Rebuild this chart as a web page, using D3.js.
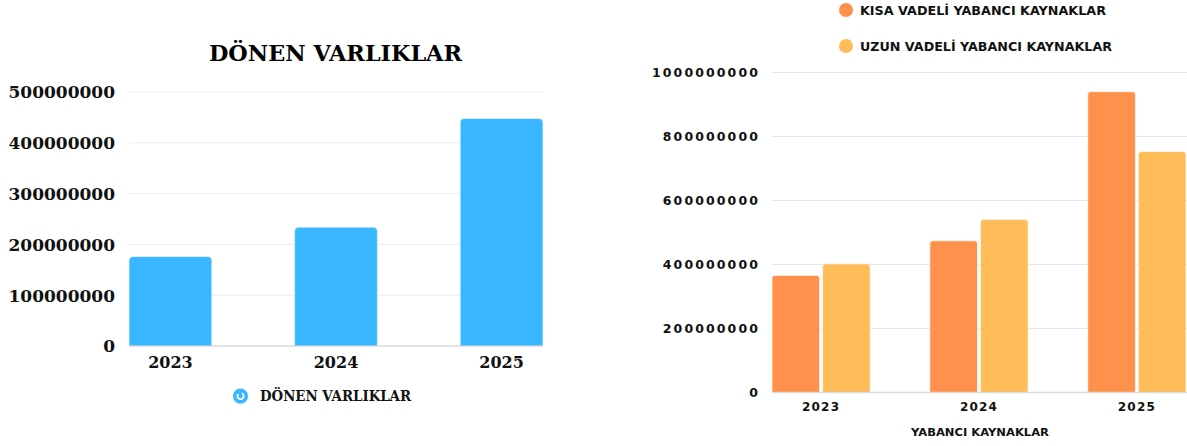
<!DOCTYPE html>
<html><head><meta charset="utf-8">
<script src="https://cdn.jsdelivr.net/npm/d3@7"></script>
<style>
html,body{margin:0;padding:0;background:#fff;}
svg{display:block;}
</style></head>
<body>
<svg id="c" width="1187" height="446"></svg>
<script>
// ---- Data ----
const years = ["2023", "2024", "2025"];
const donenVarliklar = [176000000, 234000000, 448000000];
const leftTicks = [0, 100000000, 200000000, 300000000, 400000000, 500000000];
const leftTitle = "DÖNEN VARLIKLAR";

const seriesNames = ["KISA VADELİ YABANCI KAYNAKLAR", "UZUN VADELİ YABANCI KAYNAKLAR"];
const kisaVadeli = [366000000, 474000000, 940000000];
const uzunVadeli = [402000000, 541000000, 753000000];
const rightTicks = [0, 200000000, 400000000, 600000000, 800000000, 1000000000];
const rightAxisTitle = "YABANCI KAYNAKLAR";

const blue = "#38b6ff", orange = "#ff914d", yellow = "#ffbd59";
const svg = d3.select("#c");

function topRounded(x, y, w, h, r) {
  r = Math.min(r, w / 2, h);
  return `M${x},${y + h}V${y + r}Q${x},${y} ${x + r},${y}H${x + w - r}Q${x + w},${y} ${x + w},${y + r}V${y + h}Z`;
}

// ---- Left chart ----
const serif = "'DejaVu Serif', serif";
const L = { left: 129, right: 543, top: 92, bottom: 346 };
const xL = d3.scaleBand().domain(years).range([L.left, L.right]).paddingInner(0.5).paddingOuter(0);
const yL = d3.scaleLinear().domain([0, 500000000]).range([L.bottom, L.top]);
const gL = svg.append("g");

gL.selectAll("line.grid").data(leftTicks.filter(d => d > 0)).join("line")
  .attr("x1", L.left).attr("x2", L.right)
  .attr("y1", d => yL(d)).attr("y2", d => yL(d))
  .attr("stroke", "#ececec").attr("stroke-width", 1);

gL.selectAll("path.bar").data(years).join("path")
  .attr("d", (d, i) => topRounded(xL(d), yL(donenVarliklar[i]), xL.bandwidth(), yL(0) - yL(donenVarliklar[i]), 4))
  .attr("fill", blue).attr("stroke", "#fff").attr("stroke-width", 0.6);

gL.append("line").attr("x1", L.left).attr("x2", L.right)
  .attr("y1", yL(0)).attr("y2", yL(0)).attr("stroke", "#c8c8c8").attr("stroke-width", 1);

const yAxisL = d3.axisLeft(yL).tickValues(leftTicks).tickFormat(d3.format("d")).tickSize(0).tickPadding(0);
const yaL = gL.append("g").attr("transform", "translate(115,0)").call(yAxisL);
yaL.select(".domain").remove();
yaL.selectAll("text").attr("font-family", serif).attr("font-weight", "bold")
  .attr("font-size", 17).attr("fill", "#111").attr("dy", "0.35em");

const xAxisL = d3.axisBottom(xL).tickSize(0).tickPadding(0);
const xaL = gL.append("g").attr("transform", `translate(0,${L.bottom})`).call(xAxisL);
xaL.select(".domain").remove();
xaL.selectAll("text").attr("font-family", serif).attr("font-weight", "bold")
  .attr("font-size", 16).attr("fill", "#111").attr("y", 16).attr("dy", "0.35em");

gL.append("text").text(leftTitle).attr("x", 335.5).attr("y", 52).attr("text-anchor", "middle")
  .attr("dominant-baseline", "central")
  .attr("font-family", serif).attr("font-weight", "bold").attr("font-size", 23)
  .attr("textLength", 253).attr("lengthAdjust", "spacingAndGlyphs").attr("fill", "#000");

// legend left
const lg = gL.append("g").attr("transform", "translate(240.5,396)");
lg.append("circle").attr("r", 8).attr("fill", "#bde6ff").attr("opacity", 0.5).attr("cy", 1);
lg.append("circle").attr("r", 7.5).attr("fill", blue);
lg.append("path").attr("d", d3.arc()({ innerRadius: 2.2, outerRadius: 4, startAngle: Math.PI * 0.15, endAngle: Math.PI * 1.75 }))
  .attr("fill", "#fff");
gL.append("text").text(leftTitle).attr("x", 260).attr("y", 396).attr("dominant-baseline", "central")
  .attr("font-family", serif).attr("font-weight", "bold").attr("font-size", 14)
  .attr("textLength", 151).attr("lengthAdjust", "spacingAndGlyphs").attr("fill", "#111");

// ---- Right chart ----
const sans = "'DejaVu Sans', sans-serif";
const R = { left: 772, right: 1186, top: 72.5, bottom: 392.5 };
const xR = d3.scaleBand().domain(years).range([R.left, R.right]).paddingInner(0.378).paddingOuter(0);
const xSub = d3.scaleBand().domain([0, 1]).range([0, xR.bandwidth()]).paddingInner(0.06);
const yR = d3.scaleLinear().domain([0, 1000000000]).range([R.bottom, R.top]);
const gR = svg.append("g");

gR.selectAll("line.grid").data(rightTicks.filter(d => d > 0)).join("line")
  .attr("x1", R.left).attr("x2", 1187)
  .attr("y1", d => yR(d)).attr("y2", d => yR(d))
  .attr("stroke", "#e6e6e6").attr("stroke-width", 1);

const series = [kisaVadeli, uzunVadeli];
const colors = [orange, yellow];
series.forEach((vals, s) => {
  gR.selectAll(`path.bar${s}`).data(years).join("path")
    .attr("d", (d, i) => topRounded(xR(d) + xSub(s), yR(vals[i]), xSub.bandwidth(), yR(0) - yR(vals[i]), 3))
    .attr("fill", colors[s]).attr("stroke", "#fff").attr("stroke-width", 0.6);
});

gR.append("line").attr("x1", R.left).attr("x2", 1187)
  .attr("y1", yR(0)).attr("y2", yR(0)).attr("stroke", "#dcdcdc").attr("stroke-width", 1.5);

const yAxisR = d3.axisLeft(yR).tickValues(rightTicks).tickFormat(d3.format("d")).tickSize(0).tickPadding(0);
const yaR = gR.append("g").attr("transform", "translate(760,0)").call(yAxisR);
yaR.select(".domain").remove();
yaR.selectAll("text").attr("font-family", sans).attr("font-weight", "bold")
  .attr("font-size", 12.5).attr("letter-spacing", "2.1px").attr("fill", "#111").attr("dy", "0.35em");

const xAxisR = d3.axisBottom(xR).tickSize(0).tickPadding(0);
const xaR = gR.append("g").attr("transform", `translate(0,${R.bottom})`).call(xAxisR);
xaR.select(".domain").remove();
xaR.selectAll("text").attr("font-family", sans).attr("font-weight", "bold")
  .attr("font-size", 12).attr("letter-spacing", "1.2px").attr("fill", "#111").attr("y", 14).attr("dy", "0.35em");

gR.append("text").text(rightAxisTitle).attr("x", 980).attr("y", 432).attr("text-anchor", "middle")
  .attr("dominant-baseline", "central").attr("font-family", sans).attr("font-weight", "bold")
  .attr("font-size", 11).attr("textLength", 138).attr("lengthAdjust", "spacingAndGlyphs").attr("fill", "#111");

const legendY = [10, 46];
const legendW = [246, 252];
seriesNames.forEach((name, s) => {
  gR.append("circle").attr("cx", 846).attr("cy", legendY[s]).attr("r", 7).attr("fill", colors[s]);
  gR.append("text").text(name).attr("x", 860).attr("y", legendY[s] + 0.5).attr("dominant-baseline", "central")
    .attr("font-family", sans).attr("font-weight", "bold").attr("font-size", 11.5)
    .attr("textLength", legendW[s]).attr("lengthAdjust", "spacingAndGlyphs").attr("fill", "#111");
});
</script>
</body></html>
